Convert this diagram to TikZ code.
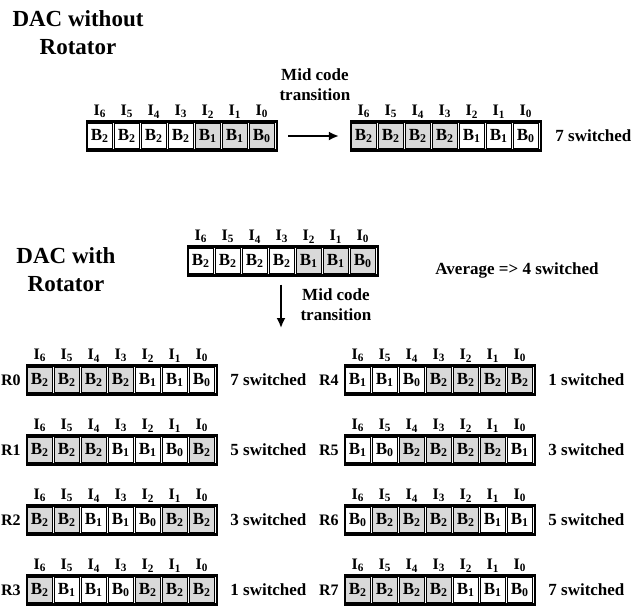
\documentclass[tikz,border=0pt]{standalone}
\usepackage{fontspec}
\setmainfont{Liberation Serif}
\usetikzlibrary{arrows.meta}
\definecolor{cellgray}{RGB}{217,217,217}
\tikzset{
    frame/.style={draw, line width=2.4pt, minimum width=190pt, minimum height=29pt, inner sep=0pt},
    cell/.style={draw, line width=1.1pt, minimum width=24.6pt, minimum height=25pt, inner sep=0pt, font=\fontsize{17}{19}\selectfont\bfseries},
    ilab/.style={anchor=south, inner sep=1pt, yshift=1pt, font=\fontsize{16}{18}\selectfont\bfseries},
    lab/.style={inner sep=1pt, font=\fontsize{17}{20}\selectfont\bfseries},
    rlab/.style={anchor=east, inner sep=1pt, xshift=-4pt, font=\fontsize{16}{18}\selectfont\bfseries},
    title/.style={align=center, font=\fontsize{23}{28}\selectfont\bfseries},
    arr/.style={-{Latex[length=10pt,width=9pt]}, line width=1.8pt},
}
% one DAC register: name, x, y, cells (bit/colour)
\newcommand{\dacrow}[4]{%
    \node[frame] (#1) at (#2,#3) {};
    \foreach \b/\f [count=\i] in {#4} {
        \pgfmathtruncatemacro{\k}{7-\i}
        \node[cell, fill=\f] (#1-\i) at ([xshift={(\i-0.5)*27+0.5}]#1.west) {B\textsubscript{\b}};
        \node[ilab] (#1-i\i) at (#1-\i.north |- #1.north) {I\textsubscript{\k}};
    }
}
\begin{document}
\begin{tikzpicture}[x=1pt, y=-1pt]
    \useasboundingbox (0,0) rectangle (638,606);
    % without rotator
    \node[title] (t-wo) at (78,33) {DAC without\\Rotator};
    \dacrow{wo-a}{182}{136}{2/white,2/white,2/white,2/white,1/cellgray,1/cellgray,0/cellgray}
    \dacrow{wo-b}{446}{136}{2/cellgray,2/cellgray,2/cellgray,2/cellgray,1/white,1/white,0/white}
    \draw[arr, shorten <=10pt, shorten >=11pt] (wo-a.east) -- (wo-b.west);
    \node[lab, align=center] (mid-a) at (315,85) {Mid code\\transition};
    \node[lab, anchor=west] (s-wo) at ([xshift=12pt]wo-b.east) {7 switched};

    % with rotator
    \node[title] (t-wr) at (66,270) {DAC with\\Rotator};
    \dacrow{wr}{283}{261}{2/white,2/white,2/white,2/white,1/cellgray,1/cellgray,0/cellgray}
    \node[lab] (avg) at (517,270) {Average => 4 switched};
    \coordinate (dn) at (281,328);
    \draw[arr, shorten <=8pt] (wr.south -| dn) -- (dn);
    \node[lab, align=center] (mid-b) at (336,305) {Mid code\\transition};

    \dacrow{r0}{122}{380}{2/cellgray,2/cellgray,2/cellgray,2/cellgray,1/white,1/white,0/white}
    \dacrow{r1}{122}{450}{2/cellgray,2/cellgray,2/cellgray,1/white,1/white,0/white,2/cellgray}
    \dacrow{r2}{122}{520}{2/cellgray,2/cellgray,1/white,1/white,0/white,2/cellgray,2/cellgray}
    \dacrow{r3}{122}{590}{2/cellgray,1/white,1/white,0/white,2/cellgray,2/cellgray,2/cellgray}
    \dacrow{r4}{440}{380}{1/white,1/white,0/white,2/cellgray,2/cellgray,2/cellgray,2/cellgray}
    \dacrow{r5}{440}{450}{1/white,0/white,2/cellgray,2/cellgray,2/cellgray,2/cellgray,1/white}
    \dacrow{r6}{440}{520}{0/white,2/cellgray,2/cellgray,2/cellgray,2/cellgray,1/white,1/white}
    \dacrow{r7}{440}{590}{2/cellgray,2/cellgray,2/cellgray,2/cellgray,1/white,1/white,0/white}

    \node[rlab] (l0) at (r0.west) {R0};
    \node[rlab] (l1) at (r1.west) {R1};
    \node[rlab] (l2) at (r2.west) {R2};
    \node[rlab] (l3) at (r3.west) {R3};
    \node[rlab] (l4) at (r4.west) {R4};
    \node[rlab] (l5) at (r5.west) {R5};
    \node[rlab] (l6) at (r6.west) {R6};
    \node[rlab] (l7) at (r7.west) {R7};

    \node[lab, anchor=west] (s0) at ([xshift=11pt]r0.east) {7 switched};
    \node[lab, anchor=west] (s1) at ([xshift=11pt]r1.east) {5 switched};
    \node[lab, anchor=west] (s2) at ([xshift=11pt]r2.east) {3 switched};
    \node[lab, anchor=west] (s3) at ([xshift=11pt]r3.east) {1 switched};
    \node[lab, anchor=west] (s4) at ([xshift=11pt]r4.east) {1 switched};
    \node[lab, anchor=west] (s5) at ([xshift=11pt]r5.east) {3 switched};
    \node[lab, anchor=west] (s6) at ([xshift=11pt]r6.east) {5 switched};
    \node[lab, anchor=west] (s7) at ([xshift=11pt]r7.east) {7 switched};
\end{tikzpicture}
\end{document}
